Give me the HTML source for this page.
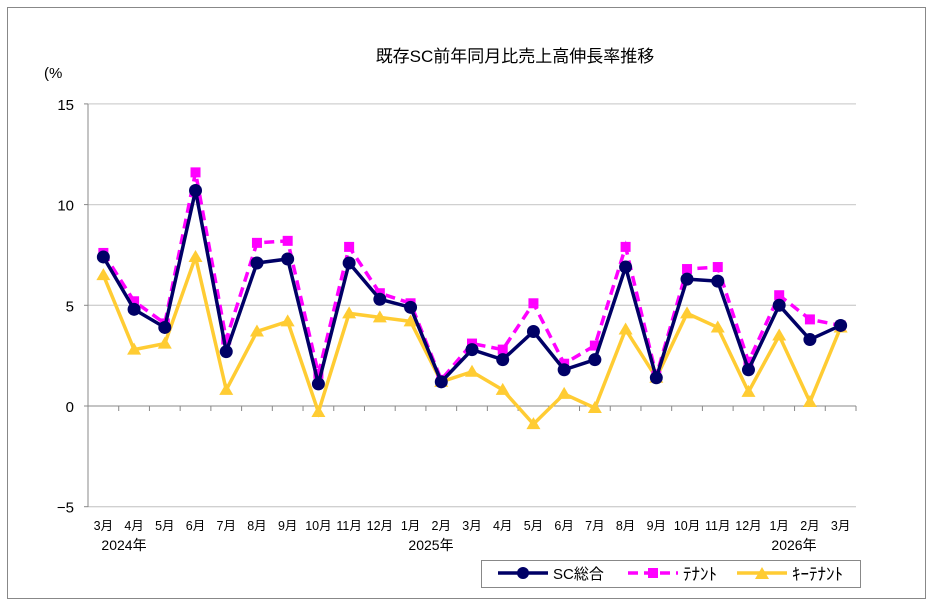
<!DOCTYPE html>
<html><head><meta charset="utf-8"><style>
body{margin:0;background:#fff}
svg text{font-family:"Liberation Sans","Noto Sans CJK JP",sans-serif}
</style></head><body>
<svg id="s" width="933" height="606" xmlns="http://www.w3.org/2000/svg">
<rect x="7.5" y="7.5" width="918" height="591" fill="#fff" stroke="#888" stroke-width="1"/>
<text x="515" y="62" font-size="17" text-anchor="middle" fill="#000">既存SC前年同月比売上高伸長率推移</text>
<text x="44" y="78" font-size="15" fill="#000">(%</text>
<g id="g"></g>
</svg>
<script>
const g=document.getElementById('g');let h='';
const X0=88,X1=856,W=(X1-X0)/25;
const y=v=>406-v*20.14;
for(const v of [15,10,5,-5]){h+=`<line x1="${X0}" x2="${X1}" y1="${y(v)}" y2="${y(v)}" stroke="#d0d0d0" stroke-width="1.3"/>`;}
for(const v of [15,10,5,0,-5]){h+=`<line x1="${X0-4}" x2="${X0}" y1="${y(v)}" y2="${y(v)}" stroke="#888"/><text x="${X0-14}" y="${y(v)+6}" font-size="15" text-anchor="end">${v==-5?'−5':v}</text>`;}
h+=`<line x1="${X0}" x2="${X0}" y1="104" y2="507" stroke="#888"/><line x1="${X0}" x2="${X1}" y1="406" y2="406" stroke="#888"/>`;
for(let i=0;i<=25;i++){const x=X0+i*W;h+=`<line x1="${x}" x2="${x}" y1="406" y2="411" stroke="#888"/>`;}
const m=[3,4,5,6,7,8,9,10,11,12,1,2,3,4,5,6,7,8,9,10,11,12,1,2,3];
m.forEach((k,i)=>{h+=`<text x="${X0+W*(i+0.5)}" y="530" font-size="12.5" text-anchor="middle">${k}月</text>`;});
h+=`<text x="124" y="550" font-size="14" text-anchor="middle">2024年</text><text x="431" y="550" font-size="14" text-anchor="middle">2025年</text><text x="794" y="550" font-size="14" text-anchor="middle">2026年</text>`;
const sc=[7.4,4.8,3.9,10.7,2.7,7.1,7.3,1.1,7.1,5.3,4.9,1.2,2.8,2.3,3.7,1.8,2.3,6.9,1.4,6.3,6.2,1.8,5.0,3.3,4.0];
const tn=[7.6,5.2,4.1,11.6,3.3,8.1,8.2,1.6,7.9,5.6,5.1,1.3,3.1,2.8,5.1,2.1,3.0,7.9,1.5,6.8,6.9,2.2,5.5,4.3,4.0];
const ky=[6.5,2.8,3.1,7.4,0.8,3.7,4.2,-0.3,4.6,4.4,4.2,1.2,1.7,0.8,-0.9,0.6,-0.1,3.8,1.4,4.6,3.9,0.7,3.5,0.2,3.9];
const pts=a=>a.map((v,i)=>`${X0+W*(i+0.5)},${y(v)}`).join(' ');
const tri=(x,yy)=>`<polygon points="${x},${yy-7} ${x-7},${yy+5} ${x+7},${yy+5}" fill="#ffcc33"/>`;
h+=`<polyline points="${pts(ky)}" fill="none" stroke="#ffcc33" stroke-width="3.5"/>`;
ky.forEach((v,i)=>h+=tri(X0+W*(i+0.5),y(v)));
h+=`<polyline points="${pts(tn)}" fill="none" stroke="#ff00ff" stroke-width="3.5" stroke-dasharray="10,6"/>`;
tn.forEach((v,i)=>h+=`<rect x="${X0+W*(i+0.5)-5}" y="${y(v)-5}" width="10" height="10" fill="#ff00ff"/>`);
h+=`<polyline points="${pts(sc)}" fill="none" stroke="#000066" stroke-width="3.5"/>`;
sc.forEach((v,i)=>h+=`<circle cx="${X0+W*(i+0.5)}" cy="${y(v)}" r="6.5" fill="#000066"/>`);
h+=`<rect x="481.5" y="560.5" width="379" height="27" fill="#fff" stroke="#888"/>`;
h+=`<line x1="498" x2="548" y1="573" y2="573" stroke="#000066" stroke-width="3.5"/><circle cx="523" cy="573" r="6" fill="#000066"/><text x="553" y="579" font-size="15">SC総合</text>`;
h+=`<line x1="628" x2="678" y1="573" y2="573" stroke="#ff00ff" stroke-width="3.5" stroke-dasharray="10,6"/><rect x="648" y="568" width="10" height="10" fill="#ff00ff"/><text x="683" y="580" font-size="17">ﾃﾅﾝﾄ</text>`;
h+=`<line x1="737" x2="787" y1="573" y2="573" stroke="#ffcc33" stroke-width="3.5"/>${tri(762,574)}<text x="792" y="580" font-size="17">ｷｰﾃﾅﾝﾄ</text>`;
g.innerHTML=h;
</script>
</body></html>
